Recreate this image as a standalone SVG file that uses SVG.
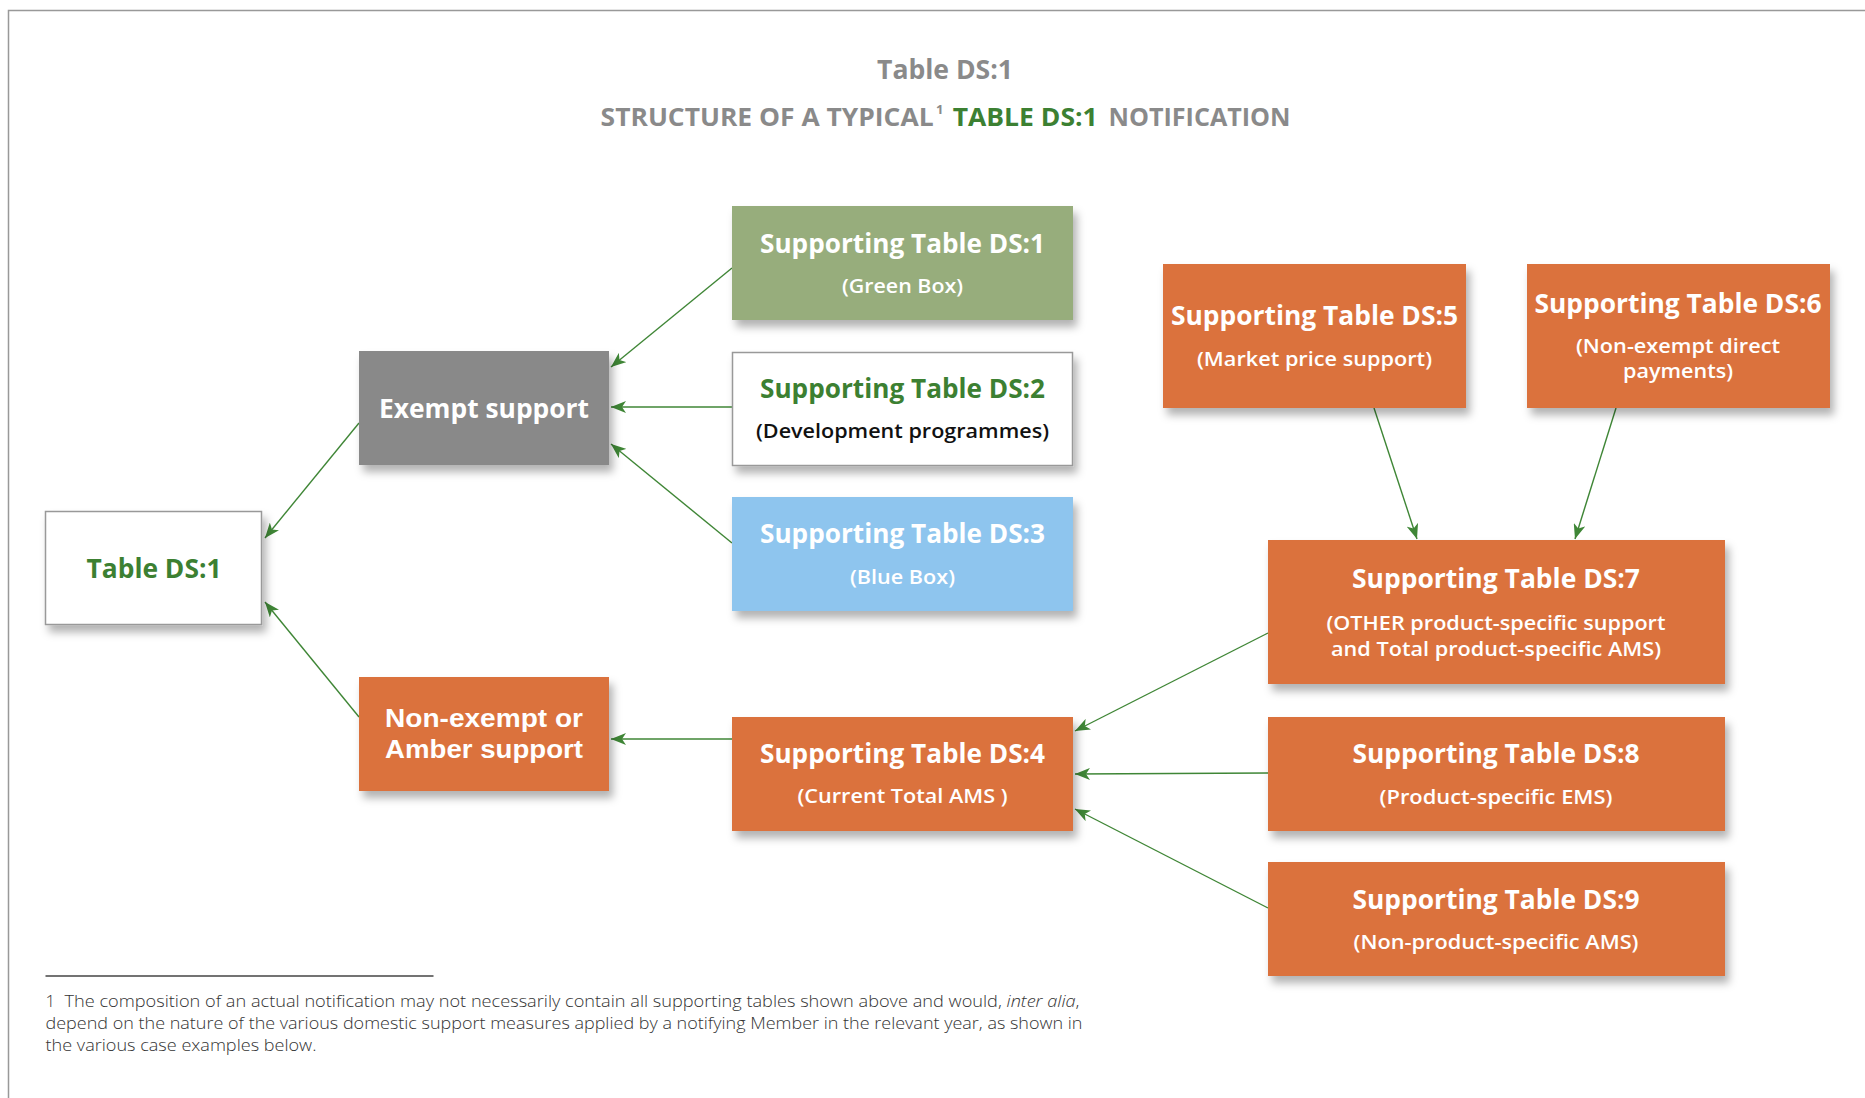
<svg xmlns="http://www.w3.org/2000/svg" width="1865" height="1098" viewBox="0 0 1865 1098">
<style>
.t{font-family:"Open Sans","Liberation Sans",sans-serif;font-weight:700;font-size:26.5px;fill:#fff;text-anchor:middle}
.s{font-family:"Open Sans","Liberation Sans",sans-serif;font-weight:600;font-size:20px;fill:#fff;text-anchor:middle}
.n{font-family:"Liberation Sans",Arial,sans-serif;font-weight:700;font-size:26px;fill:#fff;text-anchor:middle}
.g{fill:#3c8032}
.k{fill:#111}
.hd{font-family:"Open Sans","Liberation Sans",sans-serif;font-weight:700;fill:#8a8a8a}
.fn{font-family:"Open Sans","Liberation Sans",sans-serif;font-weight:300;font-size:17px;fill:#333}
.or{fill:#db723c}
.c{stroke:#3f8636;stroke-width:1.4;fill:none}
</style>
<defs>
<filter id="sh" x="-10%" y="-10%" width="130%" height="140%">
<feDropShadow dx="4" dy="7" stdDeviation="4" flood-color="#000" flood-opacity="0.3"/>
</filter>
<marker id="ar" markerUnits="userSpaceOnUse" markerWidth="16" markerHeight="12" refX="15" refY="6" orient="auto">
<path d="M0,0 L15,6 L0,12 L4,6 Z" fill="#3f8636"/>
</marker>
</defs>
<rect width="1865" height="1098" fill="#fff"/>
<path d="M8.5,1098 V10.5 H1865" stroke="#999" stroke-width="1.5" fill="none"/>

<g id="title">
<text class="hd" x="945" y="79" font-size="26" text-anchor="middle" textLength="136" lengthAdjust="spacingAndGlyphs">Table DS:1</text>
<text class="hd" x="600.6" y="126" font-size="25" textLength="333" lengthAdjust="spacingAndGlyphs">STRUCTURE OF A TYPICAL</text>
<text class="hd" x="936" y="114" font-size="13">1</text>
<text class="hd" x="952.7" y="126" font-size="25" style="fill:#3c8032" textLength="145" lengthAdjust="spacingAndGlyphs">TABLE DS:1</text>
<text class="hd" x="1108.5" y="126" font-size="25" textLength="182" lengthAdjust="spacingAndGlyphs">NOTIFICATION</text>
</g>

<g id="connectors">
<line class="c" x1="732" y1="268" x2="611" y2="367" marker-end="url(#ar)"/>
<line class="c" x1="732" y1="407" x2="611" y2="407" stroke-width="1.8" marker-end="url(#ar)"/>
<line class="c" x1="732" y1="543" x2="611" y2="444" marker-end="url(#ar)"/>
<line class="c" x1="359" y1="423" x2="265" y2="538" marker-end="url(#ar)"/>
<line class="c" x1="359" y1="717" x2="265" y2="602" marker-end="url(#ar)"/>
<line class="c" x1="732" y1="739" x2="611" y2="739" stroke-width="1.8" marker-end="url(#ar)"/>
<line class="c" x1="1374" y1="408" x2="1417" y2="539" marker-end="url(#ar)"/>
<line class="c" x1="1616" y1="408" x2="1575" y2="539" marker-end="url(#ar)"/>
<line class="c" x1="1268" y1="633" x2="1075" y2="731" marker-end="url(#ar)"/>
<line class="c" x1="1268" y1="773" x2="1075" y2="774" stroke-width="1.8" marker-end="url(#ar)"/>
<line class="c" x1="1268" y1="908" x2="1075" y2="809" marker-end="url(#ar)"/>
</g>

<g id="table-ds1">
<rect x="45.5" y="511.5" width="216" height="113" fill="#fff" stroke="#999" stroke-width="1.5" filter="url(#sh)"/>
<text class="t g" x="154" y="578" textLength="135" lengthAdjust="spacingAndGlyphs">Table DS:1</text>
</g>

<g id="exempt">
<rect x="359" y="351" width="250" height="114" fill="#898989" filter="url(#sh)"/>
<text class="t" x="484" y="418" textLength="210" lengthAdjust="spacingAndGlyphs">Exempt support</text>
</g>

<g id="nonexempt">
<rect x="359" y="677" width="250" height="114" class="or" filter="url(#sh)"/>
<text class="n" x="484" y="727" textLength="198" lengthAdjust="spacingAndGlyphs">Non-exempt or</text>
<text class="n" x="484" y="758" textLength="198" lengthAdjust="spacingAndGlyphs">Amber support</text>
</g>

<g id="st-ds1">
<rect x="732" y="206" width="341" height="114" fill="#97ad7b" filter="url(#sh)"/>
<text class="t" x="902.5" y="252.7" textLength="285" lengthAdjust="spacingAndGlyphs">Supporting Table DS:1</text>
<text class="s" x="902.5" y="293" textLength="121" lengthAdjust="spacingAndGlyphs">(Green Box)</text>
</g>

<g id="st-ds2">
<rect x="732.5" y="352.5" width="340" height="113" fill="#fff" stroke="#999" stroke-width="1.5" filter="url(#sh)"/>
<text class="t g" x="902.5" y="397.7" textLength="285" lengthAdjust="spacingAndGlyphs">Supporting Table DS:2</text>
<text class="s k" x="902.5" y="438" textLength="293" lengthAdjust="spacingAndGlyphs">(Development programmes)</text>
</g>

<g id="st-ds3">
<rect x="732" y="497" width="341" height="114" fill="#8ec5ee" filter="url(#sh)"/>
<text class="t" x="902.5" y="542.7" textLength="285" lengthAdjust="spacingAndGlyphs">Supporting Table DS:3</text>
<text class="s" x="902.5" y="584" textLength="105" lengthAdjust="spacingAndGlyphs">(Blue Box)</text>
</g>

<g id="st-ds4">
<rect x="732" y="717" width="341" height="114" class="or" filter="url(#sh)"/>
<text class="t" x="902.5" y="762.7" textLength="285" lengthAdjust="spacingAndGlyphs">Supporting Table DS:4</text>
<text class="s" x="902.5" y="803" textLength="210" lengthAdjust="spacingAndGlyphs">(Current Total AMS )</text>
</g>

<g id="st-ds5">
<rect x="1163" y="264" width="303" height="144" class="or" filter="url(#sh)"/>
<text class="t" x="1314.5" y="325" textLength="287" lengthAdjust="spacingAndGlyphs">Supporting Table DS:5</text>
<text class="s" x="1314.5" y="366" textLength="235" lengthAdjust="spacingAndGlyphs">(Market price support)</text>
</g>

<g id="st-ds6">
<rect x="1527" y="264" width="303" height="144" class="or" filter="url(#sh)"/>
<text class="t" x="1678" y="312.7" textLength="287" lengthAdjust="spacingAndGlyphs">Supporting Table DS:6</text>
<text class="s" x="1678" y="353" textLength="204" lengthAdjust="spacingAndGlyphs">(Non-exempt direct</text>
<text class="s" x="1678" y="378" textLength="110" lengthAdjust="spacingAndGlyphs">payments)</text>
</g>

<g id="st-ds7">
<rect x="1268" y="540" width="457" height="144" class="or" filter="url(#sh)"/>
<text class="t" x="1496" y="588" textLength="288" lengthAdjust="spacingAndGlyphs">Supporting Table DS:7</text>
<text class="s" x="1496" y="630" textLength="339" lengthAdjust="spacingAndGlyphs">(OTHER product-specific support</text>
<text class="s" x="1496" y="656" textLength="330" lengthAdjust="spacingAndGlyphs">and Total product-specific AMS)</text>
</g>

<g id="st-ds8">
<rect x="1268" y="717" width="457" height="114" class="or" filter="url(#sh)"/>
<text class="t" x="1496" y="763" textLength="287" lengthAdjust="spacingAndGlyphs">Supporting Table DS:8</text>
<text class="s" x="1496" y="804" textLength="233" lengthAdjust="spacingAndGlyphs">(Product-specific EMS)</text>
</g>

<g id="st-ds9">
<rect x="1268" y="862" width="457" height="114" class="or" filter="url(#sh)"/>
<text class="t" x="1496" y="908.7" textLength="287" lengthAdjust="spacingAndGlyphs">Supporting Table DS:9</text>
<text class="s" x="1496" y="949" textLength="285" lengthAdjust="spacingAndGlyphs">(Non-product-specific AMS)</text>
</g>

<g id="footnote">
<line x1="45.5" y1="976" x2="433.5" y2="976" stroke="#444" stroke-width="1.3"/>
<text class="fn" x="45.5" y="1007">1</text>
<text class="fn" x="64.5" y="1007" textLength="1015" lengthAdjust="spacingAndGlyphs">The composition of an actual notification may not necessarily contain all supporting tables shown above and would, <tspan font-style="italic">inter alia</tspan>,</text>
<text class="fn" x="45.5" y="1029" textLength="1037" lengthAdjust="spacingAndGlyphs">depend on the nature of the various domestic support measures applied by a notifying Member in the relevant year, as shown in</text>
<text class="fn" x="45.5" y="1051" textLength="271" lengthAdjust="spacingAndGlyphs">the various case examples below.</text>
</g>
</svg>
